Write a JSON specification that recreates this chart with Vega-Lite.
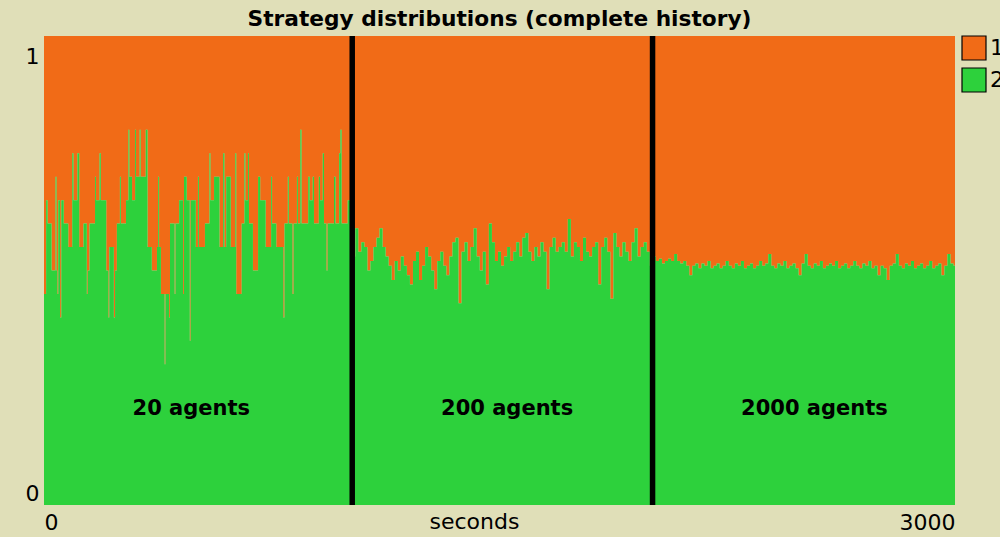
{
  "$schema": "https://vega.github.io/schema/vega-lite/v6.json",
  "width": 911,
  "height": 469,
  "autosize": {"type": "none"},
  "padding": {"left": 44, "top": 36, "right": 45, "bottom": 32},
  "background": "#e0dfb8",
  "config": {"view": {"stroke": null}},
  "title": {"text": "Strategy distributions (complete history)", "font": "DejaVu Sans", "fontSize": 21.7, "fontWeight": "bold", "color": "#000000", "anchor": "middle", "frame": "group", "offset": 3},
  "datasets": {
    "history": [
      {"t":0,"1":0.55,"2":0.45},{"t":7,"1":0.35,"2":0.65},{"t":12,"1":0.40,"2":0.60},{"t":25,"1":0.50,"2":0.50},{"t":38,"1":0.30,"2":0.70},
      {"t":41,"1":0.50,"2":0.50},{"t":44,"1":0.55,"2":0.45},{"t":47,"1":0.35,"2":0.65},{"t":53,"1":0.60,"2":0.40},{"t":57,"1":0.35,"2":0.65},
      {"t":65,"1":0.40,"2":0.60},{"t":80,"1":0.45,"2":0.55},{"t":93,"1":0.25,"2":0.75},{"t":97,"1":0.35,"2":0.65},{"t":110,"1":0.25,"2":0.75},
      {"t":116,"1":0.45,"2":0.55},{"t":130,"1":0.40,"2":0.60},{"t":141,"1":0.55,"2":0.45},{"t":144,"1":0.50,"2":0.50},{"t":150,"1":0.40,"2":0.60},
      {"t":168,"1":0.30,"2":0.70},{"t":171,"1":0.35,"2":0.65},{"t":183,"1":0.25,"2":0.75},{"t":187,"1":0.35,"2":0.65},{"t":205,"1":0.50,"2":0.50},
      {"t":212,"1":0.60,"2":0.40},{"t":215,"1":0.45,"2":0.55},{"t":230,"1":0.60,"2":0.40},{"t":234,"1":0.50,"2":0.50},{"t":240,"1":0.40,"2":0.60},
      {"t":250,"1":0.30,"2":0.70},{"t":253,"1":0.40,"2":0.60},{"t":270,"1":0.35,"2":0.65},{"t":278,"1":0.20,"2":0.80},{"t":281,"1":0.30,"2":0.70},
      {"t":290,"1":0.35,"2":0.65},{"t":300,"1":0.20,"2":0.80},{"t":303,"1":0.30,"2":0.70},{"t":315,"1":0.20,"2":0.80},{"t":318,"1":0.30,"2":0.70},
      {"t":335,"1":0.20,"2":0.80},{"t":341,"1":0.45,"2":0.55},{"t":355,"1":0.50,"2":0.50},{"t":372,"1":0.45,"2":0.55},{"t":376,"1":0.30,"2":0.70},
      {"t":379,"1":0.45,"2":0.55},{"t":385,"1":0.55,"2":0.45},{"t":397,"1":0.70,"2":0.30},{"t":400,"1":0.55,"2":0.45},{"t":412,"1":0.60,"2":0.40},
      {"t":415,"1":0.40,"2":0.60},{"t":430,"1":0.55,"2":0.45},{"t":433,"1":0.40,"2":0.60},{"t":445,"1":0.35,"2":0.65},{"t":458,"1":0.55,"2":0.45},
      {"t":461,"1":0.30,"2":0.70},{"t":470,"1":0.35,"2":0.65},{"t":480,"1":0.65,"2":0.35},{"t":483,"1":0.35,"2":0.65},{"t":500,"1":0.45,"2":0.55},
      {"t":507,"1":0.30,"2":0.70},{"t":510,"1":0.45,"2":0.55},{"t":530,"1":0.40,"2":0.60},{"t":545,"1":0.25,"2":0.75},{"t":548,"1":0.35,"2":0.65},
      {"t":560,"1":0.30,"2":0.70},{"t":578,"1":0.45,"2":0.55},{"t":590,"1":0.25,"2":0.75},{"t":594,"1":0.45,"2":0.55},{"t":600,"1":0.30,"2":0.70},
      {"t":615,"1":0.45,"2":0.55},{"t":630,"1":0.25,"2":0.75},{"t":633,"1":0.55,"2":0.45},{"t":651,"1":0.40,"2":0.60},{"t":660,"1":0.25,"2":0.75},
      {"t":663,"1":0.35,"2":0.65},{"t":672,"1":0.25,"2":0.75},{"t":675,"1":0.40,"2":0.60},{"t":688,"1":0.50,"2":0.50},{"t":705,"1":0.30,"2":0.70},
      {"t":712,"1":0.35,"2":0.65},{"t":730,"1":0.45,"2":0.55},{"t":748,"1":0.30,"2":0.70},{"t":751,"1":0.40,"2":0.60},{"t":765,"1":0.45,"2":0.55},
      {"t":788,"1":0.60,"2":0.40},{"t":792,"1":0.40,"2":0.60},{"t":803,"1":0.30,"2":0.70},{"t":806,"1":0.40,"2":0.60},{"t":818,"1":0.55,"2":0.45},
      {"t":822,"1":0.40,"2":0.60},{"t":833,"1":0.30,"2":0.70},{"t":836,"1":0.40,"2":0.60},{"t":844,"1":0.20,"2":0.80},{"t":848,"1":0.40,"2":0.60},
      {"t":870,"1":0.30,"2":0.70},{"t":875,"1":0.35,"2":0.65},{"t":885,"1":0.30,"2":0.70},{"t":889,"1":0.40,"2":0.60},{"t":905,"1":0.30,"2":0.70},
      {"t":909,"1":0.35,"2":0.65},{"t":918,"1":0.25,"2":0.75},{"t":922,"1":0.40,"2":0.60},{"t":930,"1":0.50,"2":0.50},{"t":934,"1":0.40,"2":0.60},
      {"t":955,"1":0.30,"2":0.70},{"t":960,"1":0.40,"2":0.60},{"t":972,"1":0.25,"2":0.75},{"t":976,"1":0.20,"2":0.80},{"t":980,"1":0.40,"2":0.60},
      {"t":1000,"1":0.35,"2":0.65},
      {"t":1015,"1":0.47,"2":0.53},{"t":1025,"1":0.41,"2":0.59},{"t":1035,"1":0.46,"2":0.54},{"t":1045,"1":0.44,"2":0.56},{"t":1055,"1":0.45,"2":0.55},
      {"t":1065,"1":0.50,"2":0.50},{"t":1075,"1":0.48,"2":0.52},{"t":1085,"1":0.45,"2":0.55},{"t":1095,"1":0.43,"2":0.57},{"t":1105,"1":0.41,"2":0.59},
      {"t":1115,"1":0.45,"2":0.55},{"t":1125,"1":0.47,"2":0.53},{"t":1135,"1":0.49,"2":0.51},{"t":1145,"1":0.52,"2":0.48},{"t":1155,"1":0.48,"2":0.52},
      {"t":1165,"1":0.50,"2":0.50},{"t":1175,"1":0.47,"2":0.53},{"t":1185,"1":0.49,"2":0.51},{"t":1195,"1":0.51,"2":0.49},{"t":1205,"1":0.53,"2":0.47},
      {"t":1215,"1":0.48,"2":0.52},{"t":1225,"1":0.46,"2":0.54},{"t":1235,"1":0.52,"2":0.48},{"t":1245,"1":0.49,"2":0.51},{"t":1255,"1":0.45,"2":0.55},
      {"t":1265,"1":0.47,"2":0.53},{"t":1275,"1":0.50,"2":0.50},{"t":1285,"1":0.54,"2":0.46},{"t":1295,"1":0.48,"2":0.52},{"t":1305,"1":0.46,"2":0.54},
      {"t":1315,"1":0.49,"2":0.51},{"t":1325,"1":0.51,"2":0.49},{"t":1335,"1":0.47,"2":0.53},{"t":1345,"1":0.44,"2":0.56},{"t":1355,"1":0.43,"2":0.57},
      {"t":1365,"1":0.57,"2":0.43},{"t":1375,"1":0.46,"2":0.54},{"t":1385,"1":0.44,"2":0.56},{"t":1395,"1":0.48,"2":0.52},{"t":1405,"1":0.45,"2":0.55},
      {"t":1415,"1":0.41,"2":0.59},{"t":1425,"1":0.47,"2":0.53},{"t":1435,"1":0.50,"2":0.50},{"t":1445,"1":0.46,"2":0.54},{"t":1455,"1":0.53,"2":0.47},
      {"t":1465,"1":0.40,"2":0.60},{"t":1475,"1":0.44,"2":0.56},{"t":1485,"1":0.48,"2":0.52},{"t":1495,"1":0.46,"2":0.54},{"t":1505,"1":0.49,"2":0.51},
      {"t":1515,"1":0.47,"2":0.53},{"t":1525,"1":0.45,"2":0.55},{"t":1535,"1":0.48,"2":0.52},{"t":1545,"1":0.46,"2":0.54},{"t":1555,"1":0.44,"2":0.56},
      {"t":1565,"1":0.47,"2":0.53},{"t":1575,"1":0.43,"2":0.57},{"t":1585,"1":0.42,"2":0.58},{"t":1595,"1":0.46,"2":0.54},{"t":1605,"1":0.48,"2":0.52},
      {"t":1615,"1":0.45,"2":0.55},{"t":1625,"1":0.47,"2":0.53},{"t":1635,"1":0.44,"2":0.56},{"t":1645,"1":0.46,"2":0.54},{"t":1655,"1":0.54,"2":0.46},
      {"t":1665,"1":0.45,"2":0.55},{"t":1675,"1":0.43,"2":0.57},{"t":1685,"1":0.46,"2":0.54},{"t":1695,"1":0.45,"2":0.55},{"t":1705,"1":0.44,"2":0.56},
      {"t":1715,"1":0.46,"2":0.54},{"t":1725,"1":0.39,"2":0.61},{"t":1735,"1":0.47,"2":0.53},{"t":1745,"1":0.44,"2":0.56},{"t":1755,"1":0.45,"2":0.55},
      {"t":1765,"1":0.48,"2":0.52},{"t":1775,"1":0.43,"2":0.57},{"t":1785,"1":0.46,"2":0.54},{"t":1795,"1":0.47,"2":0.53},{"t":1805,"1":0.45,"2":0.55},
      {"t":1815,"1":0.44,"2":0.56},{"t":1825,"1":0.53,"2":0.47},{"t":1835,"1":0.45,"2":0.55},{"t":1845,"1":0.43,"2":0.57},{"t":1855,"1":0.46,"2":0.54},
      {"t":1865,"1":0.56,"2":0.44},{"t":1875,"1":0.42,"2":0.58},{"t":1885,"1":0.45,"2":0.55},{"t":1895,"1":0.47,"2":0.53},{"t":1905,"1":0.44,"2":0.56},
      {"t":1915,"1":0.46,"2":0.54},{"t":1925,"1":0.48,"2":0.52},{"t":1935,"1":0.44,"2":0.56},{"t":1945,"1":0.41,"2":0.59},{"t":1955,"1":0.47,"2":0.53},
      {"t":1965,"1":0.45,"2":0.55},{"t":1975,"1":0.44,"2":0.56},{"t":1985,"1":0.46,"2":0.54},{"t":1995,"1":0.49,"2":0.51},
      {"t":2005,"1":0.47,"2":0.53},{"t":2015,"1":0.48,"2":0.52},{"t":2025,"1":0.475,"2":0.525},{"t":2035,"1":0.485,"2":0.515},{"t":2045,"1":0.48,"2":0.52},
      {"t":2055,"1":0.475,"2":0.525},{"t":2065,"1":0.48,"2":0.52},{"t":2075,"1":0.465,"2":0.535},{"t":2085,"1":0.48,"2":0.52},{"t":2095,"1":0.485,"2":0.515},
      {"t":2105,"1":0.48,"2":0.52},{"t":2115,"1":0.49,"2":0.51},{"t":2125,"1":0.51,"2":0.49},{"t":2135,"1":0.49,"2":0.51},{"t":2145,"1":0.485,"2":0.515},
      {"t":2155,"1":0.495,"2":0.505},{"t":2165,"1":0.485,"2":0.515},{"t":2175,"1":0.49,"2":0.51},{"t":2185,"1":0.48,"2":0.52},{"t":2195,"1":0.495,"2":0.505},
      {"t":2205,"1":0.49,"2":0.51},{"t":2215,"1":0.485,"2":0.515},{"t":2225,"1":0.495,"2":0.505},{"t":2235,"1":0.49,"2":0.51},{"t":2245,"1":0.48,"2":0.52},
      {"t":2255,"1":0.49,"2":0.51},{"t":2265,"1":0.495,"2":0.505},{"t":2275,"1":0.485,"2":0.515},{"t":2285,"1":0.49,"2":0.51},{"t":2295,"1":0.48,"2":0.52},
      {"t":2305,"1":0.495,"2":0.505},{"t":2315,"1":0.49,"2":0.51},{"t":2325,"1":0.485,"2":0.515},{"t":2335,"1":0.495,"2":0.505},{"t":2345,"1":0.49,"2":0.51},
      {"t":2355,"1":0.48,"2":0.52},{"t":2365,"1":0.49,"2":0.51},{"t":2375,"1":0.485,"2":0.515},{"t":2385,"1":0.465,"2":0.535},{"t":2395,"1":0.49,"2":0.51},
      {"t":2405,"1":0.495,"2":0.505},{"t":2415,"1":0.485,"2":0.515},{"t":2425,"1":0.49,"2":0.51},{"t":2435,"1":0.48,"2":0.52},{"t":2445,"1":0.495,"2":0.505},
      {"t":2455,"1":0.49,"2":0.51},{"t":2465,"1":0.485,"2":0.515},{"t":2475,"1":0.495,"2":0.505},{"t":2485,"1":0.51,"2":0.49},{"t":2495,"1":0.485,"2":0.515},
      {"t":2505,"1":0.465,"2":0.535},{"t":2515,"1":0.49,"2":0.51},{"t":2525,"1":0.495,"2":0.505},{"t":2535,"1":0.485,"2":0.515},{"t":2545,"1":0.49,"2":0.51},
      {"t":2555,"1":0.48,"2":0.52},{"t":2565,"1":0.495,"2":0.505},{"t":2575,"1":0.49,"2":0.51},{"t":2585,"1":0.485,"2":0.515},{"t":2595,"1":0.49,"2":0.51},
      {"t":2605,"1":0.48,"2":0.52},{"t":2615,"1":0.495,"2":0.505},{"t":2625,"1":0.49,"2":0.51},{"t":2635,"1":0.485,"2":0.515},{"t":2645,"1":0.495,"2":0.505},
      {"t":2655,"1":0.49,"2":0.51},{"t":2665,"1":0.48,"2":0.52},{"t":2675,"1":0.49,"2":0.51},{"t":2685,"1":0.495,"2":0.505},{"t":2695,"1":0.485,"2":0.515},
      {"t":2705,"1":0.49,"2":0.51},{"t":2715,"1":0.48,"2":0.52},{"t":2725,"1":0.495,"2":0.505},{"t":2735,"1":0.49,"2":0.51},{"t":2745,"1":0.51,"2":0.49},
      {"t":2755,"1":0.49,"2":0.51},{"t":2765,"1":0.495,"2":0.505},{"t":2775,"1":0.52,"2":0.48},{"t":2785,"1":0.49,"2":0.51},{"t":2795,"1":0.485,"2":0.515},
      {"t":2805,"1":0.465,"2":0.535},{"t":2815,"1":0.49,"2":0.51},{"t":2825,"1":0.495,"2":0.505},{"t":2835,"1":0.485,"2":0.515},{"t":2845,"1":0.49,"2":0.51},
      {"t":2855,"1":0.48,"2":0.52},{"t":2865,"1":0.495,"2":0.505},{"t":2875,"1":0.49,"2":0.51},{"t":2885,"1":0.485,"2":0.515},{"t":2895,"1":0.495,"2":0.505},
      {"t":2905,"1":0.49,"2":0.51},{"t":2915,"1":0.48,"2":0.52},{"t":2925,"1":0.495,"2":0.505},{"t":2935,"1":0.49,"2":0.51},{"t":2945,"1":0.485,"2":0.515},
      {"t":2955,"1":0.51,"2":0.49},{"t":2965,"1":0.49,"2":0.51},{"t":2975,"1":0.465,"2":0.535},{"t":2985,"1":0.485,"2":0.515},{"t":2995,"1":0.49,"2":0.51},
      {"t":3000,"1":0.49,"2":0.51}
    ],
    "breaks": [{"t": 1015}, {"t": 2004}],
    "notes": [
      {"t": 485, "y": 0.192, "label": "20 agents"},
      {"t": 1525, "y": 0.192, "label": "200 agents"},
      {"t": 2537, "y": 0.192, "label": "2000 agents"}
    ]
  },
  "layer": [
    {
      "data": {"name": "history"},
      "transform": [{"fold": ["1", "2"], "as": ["strategy", "share"]}],
      "mark": {"type": "area", "interpolate": "step-after", "opacity": 1, "strokeWidth": 0},
      "encoding": {
        "x": {"field": "t", "type": "quantitative", "scale": {"domain": [0, 3000], "nice": false, "zero": false},
          "axis": {"values": [0, 3000], "format": "d", "grid": false, "ticks": false, "domain": false, "labelFlush": true, "labelFont": "DejaVu Sans", "labelFontSize": 22, "labelColor": "#000000", "labelPadding": 7,
            "title": "seconds", "titleFont": "DejaVu Sans", "titleFontSize": 22, "titleFontWeight": "normal", "titleColor": "#000000", "titleX": 430, "titleY": 23.5, "titleBaseline": "alphabetic", "titleAlign": "center"}},
        "y": {"field": "share", "type": "quantitative", "stack": "zero", "scale": {"domain": [0, 1], "nice": false},
          "axis": {"values": [0, 1], "format": "d", "grid": false, "ticks": false, "domain": false, "title": null, "labelFont": "DejaVu Sans", "labelFontSize": 22, "labelColor": "#000000", "labelPadding": 5,
            "labelBaseline": {"condition": {"test": "datum.value == 1", "value": "top"}, "value": "alphabetic"},
            "labelOffset": {"condition": {"test": "datum.value == 1", "value": 10}, "value": -5}}},
        "color": {"field": "strategy", "type": "nominal", "scale": {"domain": ["1", "2"], "range": ["#f16b17", "#2dd13c"]},
          "legend": {"orient": "none", "legendX": 917, "legendY": -1, "title": null, "padding": 0, "symbolType": "square", "symbolSize": 576, "symbolOpacity": 1, "symbolStrokeColor": "#000000", "symbolStrokeWidth": 1.2, "labelFont": "DejaVu Sans", "labelFontSize": 22, "labelColor": "#000000", "labelOffset": 3, "rowPadding": 2,
            "encode": {"symbols": {"update": {"stroke": {"value": "#000000"}, "strokeWidth": {"value": 1.2}}}}}},
        "order": {"field": "strategy", "sort": "descending"}
      }
    },
    {
      "data": {"name": "breaks"},
      "mark": {"type": "rule", "color": "#000000", "strokeWidth": 5.5},
      "encoding": {"x": {"field": "t", "type": "quantitative"}}
    },
    {
      "data": {"name": "notes"},
      "mark": {"type": "text", "font": "DejaVu Sans", "fontSize": 21, "fontWeight": "bold", "color": "#000000", "align": "center", "baseline": "alphabetic"},
      "encoding": {
        "x": {"field": "t", "type": "quantitative"},
        "y": {"field": "y", "type": "quantitative"},
        "text": {"field": "label"}
      }
    }
  ]
}
